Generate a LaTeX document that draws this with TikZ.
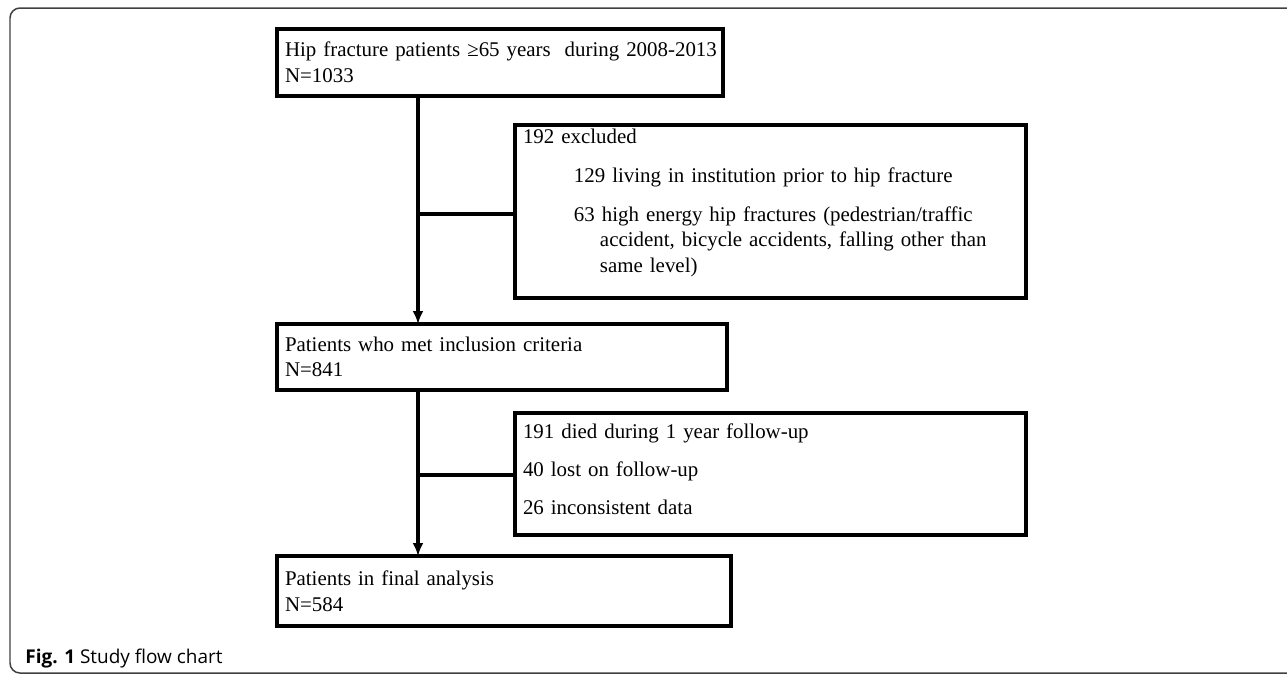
\documentclass[tikz,border=0pt]{standalone}
\usepackage{fontspec}
\setmainfont{Liberation Serif}
\setsansfont{Open Sans}
\usetikzlibrary{arrows.meta}

\tikzset{
  flowbox/.style={draw,line width=2.4pt,outer sep=0pt,anchor=north west,align=left,
    inner xsep=0.16cm,inner ysep=0pt,font=\fontsize{11.9}{14.6}\selectfont},
  flowline/.style={line width=1.85pt},
  flowarrow/.style={flowline,-{Latex[length=0.26cm,width=0.22cm]}}
}

\begin{document}
\begin{tikzpicture}[x=0.02cm,y=-0.02cm]
  \useasboundingbox (0,0) rectangle (1287,674);
  \clip (0,0) rectangle (1287,674);
  \draw[line width=0.03cm,black!75,rounded corners=0.2cm] (1300,8) -- (10,8) -- (10,673) -- (1300,673);
  \node[flowbox,text width=8.6cm,minimum height=1.34cm] (start) at (277,29)
    {\mbox{Hip fracture patients ≥65 years~ during 2008-2013}\\N=1033};
  \node[flowbox,text width=9.9cm,minimum height=3.46cm] (excl1) at (515,125)
    {\parindent=0pt\parskip=7.4pt
     192 excluded\par
     {\leftskip=1.02cm 129 living in institution prior to hip fracture\par}
     {\leftskip=1.02cm \hangindent=0.52cm \hangafter=1 63 high energy hip fractures (pedestrian/traffic accident, bicycle accidents, falling other than same level)\par}
     \nointerlineskip\vbox to 0.34cm{}};
  \node[flowbox,text width=8.68cm,minimum height=1.32cm] (incl) at (277,324)
    {Patients who met inclusion criteria\\N=841};
  \node[flowbox,text width=9.9cm,minimum height=2.44cm] (excl2) at (515,413)
    {\parindent=0pt\parskip=7.0pt
     191 died during 1 year follow-up\par
     40 lost on follow-up\par
     26 inconsistent data\par
     \nointerlineskip\vbox to 0.2cm{}};
  \node[flowbox,text width=8.76cm,minimum height=1.4cm] (final) at (277,556)
    {Patients in final analysis\\N=584};
  \coordinate (trunk1) at (418,214);
  \coordinate (trunk2) at (418,475);
  \draw[flowline] (trunk1 |- start.south) -- (trunk1) -- (trunk1 -| excl1.west);
  \draw[flowarrow] (trunk1) -- (trunk1 |- incl.north);
  \draw[flowline] (trunk2 |- incl.south) -- (trunk2) -- (trunk2 -| excl2.west);
  \draw[flowarrow] (trunk2) -- (trunk2 |- final.north);
  \node[anchor=base west,inner sep=0pt,font=\sffamily\fontsize{10.8}{12}\selectfont] (caption) at (25,663)
    {\textbf{Fig. 1} Study flow chart};
\end{tikzpicture}
\end{document}
